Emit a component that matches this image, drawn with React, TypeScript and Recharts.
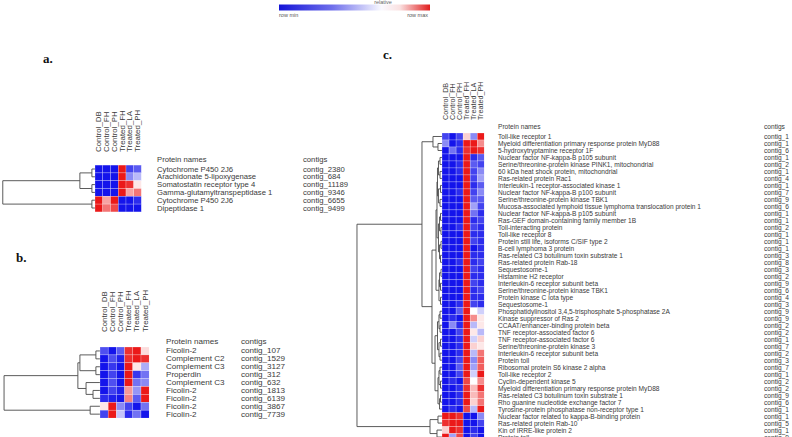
import React from 'react';
import { ScatterChart, Scatter, XAxis, YAxis, ReferenceLine } from 'recharts';

// ---------- data ----------
const sampleLabels = ['Control_DB', 'Control_FH', 'Control_PH', 'Treated_FH', 'Treated_LA', 'Treated_PH'];

// a. cluster
const proteinsA = [
  'Cytochrome P450 2J6',
  'Arachidonate 5-lipoxygenase',
  'Somatostatin receptor type 4',
  'Gamma-glutamyltranspeptidase 1',
  'Cytochrome P450 2J6',
  'Dipeptidase 1',
];
const contigsA = ['contig_2380', 'contig_684', 'contig_11189', 'contig_9346', 'contig_6655', 'contig_9499'];
// relative expression per row: -1 = row min, 1 = row max
const valuesA = [
  [-1, -1, -1, 1, -0.8, -0.7],
  [-1, -1, -1, 1, -0.5, -0.3],
  [-1, -1, -1, 1, 0.9, 0.1],
  [-1, -1, -1, 1, 0.4, 0.6],
  [1, 0.4, 1, -1, -1, -0.9],
  [1, 0.6, 0.8, -1, -1, -1],
];
// dendrogram links: [height, yA, heightA, yB, heightB] (height in column units)
type Link = [number, number, number, number, number];
const linksA: Link[] = [
  [0.4, 0.5, 0, 1.5, 0],
  [0.4, 2.5, 0, 3.5, 0],
  [1.95, 1.0, 0.4, 3.0, 0.4],
  [0.4, 4.5, 0, 5.5, 0],
  [11.9, 2.0, 1.95, 5.0, 0.4],
];

// b. cluster
const proteinsB = [
  'Ficolin-2',
  'Complement C2',
  'Complement C3',
  'Properdin',
  'Complement C3',
  'Ficolin-2',
  'Ficolin-2',
  'Ficolin-2',
  'Ficolin-2',
];
const contigsB = ['contig_107', 'contig_1529', 'contig_3127', 'contig_312', 'contig_632', 'contig_1813', 'contig_6139', 'contig_3867', 'contig_7739'];
const valuesB = [
  [-0.75, -1, -0.7, 0.9, 1, 0.15],
  [-1, -0.75, -0.95, 0.9, 1, 0.9],
  [-1, -0.85, -1, 1, 0.1, -0.35],
  [-1, -0.8, -1, 1, -0.85, -0.6],
  [-1, -0.75, -1, 1, -0.6, -0.5],
  [-1, -0.8, -0.95, 0.45, -0.45, 1],
  [-0.9, -0.95, -1, 0.55, -0.7, 1],
  [0.1, 1, -0.5, -0.8, -1, -0.6],
  [-0.8, 1, -0.25, -0.9, -0.6, -1],
];
const linksB: Link[] = [
  [0.5, 0.5, 0, 1.5, 0],
  [0.5, 2.5, 0, 3.5, 0],
  [2.45, 1.0, 0.5, 3.0, 0.5],
  [0.85, 5.5, 0, 6.5, 0],
  [1.7, 4.5, 0, 6.0, 0.85],
  [2.7, 2.0, 2.45, 5.25, 1.7],
  [1.2, 7.5, 0, 8.5, 0],
  [11.7, 3.625, 2.7, 8.0, 1.2],
];

// c. cluster
const proteinsC = [
  'Toll-like receptor 1',
  'Myeloid differentiation primary response protein MyD88',
  '5-hydroxytryptamine receptor 1F',
  'Nuclear factor NF-kappa-B p105 subunit',
  'Serine/threonine-protein kinase PINK1, mitochondrial',
  '60 kDa heat shock protein, mitochondrial',
  'Ras-related protein Rac1',
  'Interleukin-1 receptor-associated kinase 1',
  'Nuclear factor NF-kappa-B p100 subunit',
  'Serine/threonine-protein kinase TBK1',
  'Mucosa-associated lymphoid tissue lymphoma translocation protein 1',
  'Nuclear factor NF-kappa-B p105 subunit',
  'Ras-GEF domain-containing family member 1B',
  'Toll-interacting protein',
  'Toll-like receptor 8',
  'Protein still life, isoforms C/SIF type 2',
  'B-cell lymphoma 3 protein',
  'Ras-related C3 botulinum toxin substrate 1',
  'Ras-related protein Rab-18',
  'Sequestosome-1',
  'Histamine H2 receptor',
  'Interleukin-6 receptor subunit beta',
  'Serine/threonine-protein kinase TBK1',
  'Protein kinase C iota type',
  'Sequestosome-1',
  'Phosphatidylinositol 3,4,5-trisphosphate 5-phosphatase 2A',
  'Kinase suppressor of Ras 2',
  'CCAAT/enhancer-binding protein beta',
  'TNF receptor-associated factor 6',
  'TNF receptor-associated factor 6',
  'Serine/threonine-protein kinase 3',
  'Interleukin-6 receptor subunit beta',
  'Protein toll',
  'Ribosomal protein S6 kinase 2 alpha',
  'Toll-like receptor 2',
  'Cyclin-dependent kinase 5',
  'Myeloid differentiation primary response protein MyD88',
  'Ras-related C3 botulinum toxin substrate 1',
  'Rho guanine nucleotide exchange factor 7',
  'Tyrosine-protein phosphatase non-receptor type 1',
  'Nuclear factor related to kappa-B-binding protein',
  'Ras-related protein Rab-10',
  'Kin of IRRE-like protein 2',
  'Protein toll',
];
const contigsC = [
  'contig_1', 'contig_1', 'contig_6', 'contig_1', 'contig_2', 'contig_1', 'contig_4', 'contig_1',
  'contig_7', 'contig_9', 'contig_6', 'contig_1', 'contig_1', 'contig_2', 'contig_1', 'contig_1',
  'contig_1', 'contig_3', 'contig_8', 'contig_3', 'contig_2', 'contig_9', 'contig_6', 'contig_4',
  'contig_3', 'contig_9', 'contig_9', 'contig_2', 'contig_2', 'contig_1', 'contig_7', 'contig_2',
  'contig_3', 'contig_7', 'contig_1', 'contig_2', 'contig_2', 'contig_9', 'contig_6', 'contig_1',
  'contig_1', 'contig_5', 'contig_1', 'contig_9',
];
const valuesC = [
  [-0.8, -1, -0.8, 0.2, -0.5, 1],
  [-0.5, -1, -0.9, 1, 1, 0.5],
  [-1, -0.6, -0.9, 0.9, 1, 0.9],
  [-1, -1, -1, 1, -0.9, -0.7],
  [-1, -1, -0.9, 1, -0.7, -0.8],
  [-1, -1, -0.9, 1, -0.8, -0.5],
  [-1, -1, -1, 1, -0.8, -0.4],
  [-1, -1, -1, 1, -0.9, -0.7],
  [-1, -1, -0.9, 1, -0.8, -0.5],
  [-1, -1, -1, 1, -0.7, -0.7],
  [-1, -1, -1, 1, -0.4, -0.8],
  [-1, -1, -1, 1, -0.6, -0.9],
  [-1, -1, -1, 1, -0.9, -0.8],
  [-1, -1, -0.9, 1, -0.8, -0.9],
  [-1, -1, -1, 1, -0.9, -0.9],
  [-1, -1, -1, 1, -0.8, -0.9],
  [-1, -1, -1, 1, -1, -0.9],
  [-1, -1, -1, 1, -0.9, -0.9],
  [-1, -1, -0.9, 1, -0.9, -0.8],
  [-1, -1, -1, 1, -0.8, -0.9],
  [-1, -1, -1, 1, -0.9, -0.9],
  [-1, -1, -1, 1, -0.8, -0.9],
  [-1, -1, -1, 1, -0.9, -0.8],
  [-1, -1, -1, 1, -0.9, -0.9],
  [-1, -1, -0.9, 1, -0.8, -0.9],
  [-1, -1, -0.7, 1, 0, -0.2],
  [-1, -0.9, -1, 1, 0.5, 0.1],
  [-1, -0.5, -0.9, 1, -0.3, 0.1],
  [-1, -1, -0.8, 1, 0.1, -0.3],
  [-1, -1, -0.9, 1, -0.2, 0.2],
  [-1, -1, -0.9, 1, 0.2, 0.1],
  [-1, -1, -0.9, 1, -0.3, 0.6],
  [-1, -1, -0.8, 1, -0.5, 0.7],
  [-1, -1, -0.7, 1, -0.4, 0.7],
  [-1, -1, -0.8, 1, -0.2, 1],
  [-1, -0.9, -1, 0.8, 0, 0.5],
  [-1, -1, -0.9, 0.9, 0.3, 0.9],
  [-1, -1, -0.9, 1, 0.3, 0.6],
  [-1, -1, -0.9, 1, 0.2, 0.6],
  [-1, -0.9, -1, 0.8, -0.3, 1],
  [1, 1, 0.9, -1, -1, -0.5],
  [0.9, 1, 1, -1, -1, -0.8],
  [0.2, 1, 0.9, -1, -0.9, -1],
  [1, -0.4, 0.8, -1, -0.8, -1],
];
const linksC: Link[] = [
  [0.57, 1.5, 0, 2.5, 0],
  [1.28, 0.5, 0, 2.0, 0.57],
  [0.28, 3.5, 0, 4.5, 0],
  [0.28, 5.5, 0, 6.5, 0],
  [0.21, 7.5, 0, 8.5, 0],
  [0.28, 9.5, 0, 10.5, 0],
  [0.5, 4.0, 0.28, 6.0, 0.28],
  [0.5, 8.0, 0.21, 10.0, 0.28],
  [0.64, 5.0, 0.5, 9.0, 0.5],
  [0.21, 11.5, 0, 12.5, 0],
  [0.14, 13.5, 0, 14.5, 0],
  [0.14, 15.5, 0, 16.5, 0],
  [0.21, 17.5, 0, 18.5, 0],
  [0.35, 12.0, 0.21, 14.0, 0.14],
  [0.35, 16.0, 0.14, 18.0, 0.21],
  [0.5, 13.0, 0.35, 17.0, 0.35],
  [0.14, 19.5, 0, 20.5, 0],
  [0.21, 21.5, 0, 22.5, 0],
  [0.21, 23.5, 0, 24.5, 0],
  [0.35, 20.0, 0.14, 22.0, 0.21],
  [0.43, 21.0, 0.35, 24.0, 0.21],
  [0.71, 7.0, 0.64, 15.0, 0.5],
  [0.85, 11.0, 0.71, 22.5, 0.43],
  [0.28, 25.5, 0, 26.5, 0],
  [0.28, 27.5, 0, 28.5, 0],
  [0.21, 29.5, 0, 30.5, 0],
  [0.28, 31.5, 0, 32.5, 0],
  [0.28, 33.5, 0, 34.5, 0],
  [0.21, 35.5, 0, 36.5, 0],
  [0.21, 37.5, 0, 38.5, 0],
  [0.35, 38.0, 0.21, 39.5, 0],
  [0.43, 26.0, 0.28, 28.0, 0.28],
  [0.43, 30.0, 0.21, 32.0, 0.28],
  [0.43, 34.0, 0.28, 36.0, 0.21],
  [0.64, 27.0, 0.43, 31.0, 0.43],
  [0.57, 35.0, 0.43, 38.75, 0.35],
  [0.99, 29.0, 0.64, 36.875, 0.57],
  [1.42, 16.75, 0.85, 32.9375, 0.99],
  [2.84, 1.25, 1.28, 24.84, 1.42],
  [0.57, 40.5, 0, 41.5, 0],
  [0.71, 42.5, 0, 43.5, 0],
  [1.7, 41.0, 0.57, 43.0, 0.71],
  [12.06, 13.05, 2.84, 42.0, 1.7],
];

// ---------- drawing ----------
const SANS = '"Liberation Sans", Arial, sans-serif';
const SERIF = '"Liberation Serif", "Times New Roman", serif';
const TEXT = '#3a3a3a';
const TREE = '#4a4a4a';

const BLUE = [20, 20, 235];
const RED = [235, 25, 25];

function heatColor(v: number): string {
  const t = Math.max(-1, Math.min(1, v));
  const end = t < 0 ? BLUE : RED;
  const k = Math.abs(t);
  const c = end.map((e) => Math.round(255 + (e - 255) * k));
  return `rgb(${c[0]},${c[1]},${c[2]})`;
}

type PanelSpec = {
  proteins: string[];
  contigs: string[];
  values: number[][];
  links: Link[];
  heatLeft: number;
  cw: number;
  rowTop: number;
  rh: number;
  dendroLeft: number;
  labelBottom: number;
  headerY: number;
  nameX: number;
  contigX: number;
  textSize: number;
  colSize: number;
  chartHeight: number;
};

function HeatPanel({ spec }: { spec: PanelSpec }) {
  const n = spec.proteins.length;
  const nCols = sampleLabels.length;
  const xMin = -(spec.heatLeft - spec.dendroLeft) / spec.cw;
  const yMin = -(spec.rowTop - spec.labelBottom) / spec.rh;
  const headerRow = -(spec.rowTop - spec.headerY) / spec.rh;
  const plotRight = spec.heatLeft + nCols * spec.cw;
  const plotBottom = spec.rowTop + n * spec.rh;
  const axisW = 300;
  const axisH = 40;

  const cells = spec.values.flatMap((row, r) => row.map((v, c) => ({ x: c + 0.5, y: r + 0.5, v })));
  const rowTicks = [headerRow, ...spec.proteins.map((_, i) => i + 0.5)];
  const colTicks = sampleLabels.map((_, i) => i + 0.5);

  const segs = spec.links.flatMap(([h, y1, h1, y2, h2]) => [
    [[-h, y1], [-h, y2]],
    [[-h1, y1], [-h, y1]],
    [[-h2, y2], [-h, y2]],
  ]);

  const cellShape = (props: any) => {
    const { cx, cy, payload } = props;
    return (
      <rect
        x={cx - spec.cw / 2}
        y={cy - spec.rh / 2}
        width={spec.cw}
        height={spec.rh}
        fill={heatColor(payload.v)}
        stroke="rgba(255,255,255,0.45)"
        strokeWidth={0.5}
      />
    );
  };

  const rowTick = (props: any) => {
    const { y, payload } = props;
    const v = payload.value;
    const common = { y, fontSize: spec.textSize, fontFamily: SANS, fill: TEXT, dominantBaseline: 'central' as const };
    if (Math.abs(v - headerRow) < 1e-6) {
      return (
        <g>
          <text x={spec.nameX} {...common}>Protein names</text>
          <text x={spec.contigX} {...common}>contigs</text>
        </g>
      );
    }
    const i = Math.round(v - 0.5);
    return (
      <g>
        <text x={spec.nameX} {...common}>{spec.proteins[i]}</text>
        <text x={spec.contigX} {...common}>{spec.contigs[i]}</text>
      </g>
    );
  };

  const colTick = (props: any) => {
    const { x, payload } = props;
    const i = Math.round(payload.value - 0.5);
    const yb = spec.labelBottom - 1;
    return (
      <text
        x={x}
        y={yb}
        transform={`rotate(-90, ${x}, ${yb})`}
        textAnchor="start"
        dominantBaseline="central"
        fontSize={spec.colSize}
        fontFamily={SANS}
        fill={TEXT}
      >
        {sampleLabels[i]}
      </text>
    );
  };

  return (
    <div style={{ position: 'absolute', left: 0, top: 0, pointerEvents: 'none' }}>
      <ScatterChart
        width={792}
        height={spec.chartHeight}
        margin={{
          top: spec.labelBottom - axisH,
          right: 792 - plotRight - axisW,
          bottom: spec.chartHeight - plotBottom,
          left: spec.dendroLeft,
        }}
      >
        <XAxis
          xAxisId="s"
          type="number"
          dataKey="x"
          orientation="top"
          domain={[xMin, nCols]}
          ticks={colTicks}
          interval={0}
          tick={colTick}
          axisLine={false}
          tickLine={false}
          height={axisH}
          allowDataOverflow
        />
        <YAxis
          yAxisId="p"
          type="number"
          dataKey="y"
          orientation="right"
          reversed
          domain={[yMin, n]}
          ticks={rowTicks}
          interval={0}
          tick={rowTick}
          axisLine={false}
          tickLine={false}
          width={axisW}
          allowDataOverflow
        />
        <Scatter xAxisId="s" yAxisId="p" data={cells} shape={cellShape} isAnimationActive={false} />
        {segs.map((s, k) => (
          <ReferenceLine
            key={k}
            xAxisId="s"
            yAxisId="p"
            segment={[{ x: s[0][0], y: s[0][1] }, { x: s[1][0], y: s[1][1] }]}
            stroke={TREE}
            strokeWidth={0.9}
            ifOverflow="visible"
          />
        ))}
      </ScatterChart>
    </div>
  );
}

const panelA: PanelSpec = {
  proteins: proteinsA, contigs: contigsA, values: valuesA, links: linksA,
  heatLeft: 95, cw: 7.75, rowTop: 165.1, rh: 7.8, dendroLeft: 2, labelBottom: 153, headerY: 159,
  nameX: 157, contigX: 303, textSize: 7.7, colSize: 7.9, chartHeight: 437,
};
const panelB: PanelSpec = {
  proteins: proteinsB, contigs: contigsB, values: valuesB, links: linksB,
  heatLeft: 100, cw: 8.2, rowTop: 347, rh: 7.9, dendroLeft: 3, labelBottom: 333, headerY: 341,
  nameX: 166, contigX: 241, textSize: 8.1, colSize: 7.9, chartHeight: 437,
};
const panelC: PanelSpec = {
  proteins: proteinsC, contigs: contigsC, values: valuesC, links: linksC,
  heatLeft: 442, cw: 7.05, rowTop: 133, rh: 6.99, dendroLeft: 356.5, labelBottom: 121, headerY: 126,
  nameX: 498, contigX: 764, textSize: 6.6, colSize: 7.2, chartHeight: 460,
};

export default function App() {
  return (
    <div style={{ position: 'absolute', left: 0, top: 0, width: 792, height: 437, overflow: 'hidden', background: '#ffffff' }}>
      <svg width={792} height={437} style={{ position: 'absolute', left: 0, top: 0 }}>
        <defs>
          <linearGradient id="rowScale" x1="0" x2="1" y1="0" y2="0">
            <stop offset="0%" stopColor="rgb(20,20,215)" />
            <stop offset="35%" stopColor="rgb(110,110,235)" />
            <stop offset="68%" stopColor="rgb(250,250,255)" />
            <stop offset="80%" stopColor="rgb(250,225,225)" />
            <stop offset="100%" stopColor="rgb(225,30,30)" />
          </linearGradient>
        </defs>
        <rect x={279} y={4.5} width={151} height={6} fill="url(#rowScale)" />
        <text x={383} y={4.2} fontSize={5.5} fontFamily={SANS} fill="#666" textAnchor="middle">relative</text>
        <text x={279} y={16.5} fontSize={5.5} fontFamily={SANS} fill="#555">row min</text>
        <text x={428} y={16.5} fontSize={5.5} fontFamily={SANS} fill="#555" textAnchor="end">row max</text>
        <text x={43} y={63} fontSize={13} fontWeight="bold" fontFamily={SERIF} fill="#111">a.</text>
        <text x={16} y={262} fontSize={13} fontWeight="bold" fontFamily={SERIF} fill="#111">b.</text>
        <text x={383} y={59} fontSize={13} fontWeight="bold" fontFamily={SERIF} fill="#111">c.</text>
      </svg>
      <HeatPanel spec={panelA} />
      <HeatPanel spec={panelB} />
      <HeatPanel spec={panelC} />
    </div>
  );
}
